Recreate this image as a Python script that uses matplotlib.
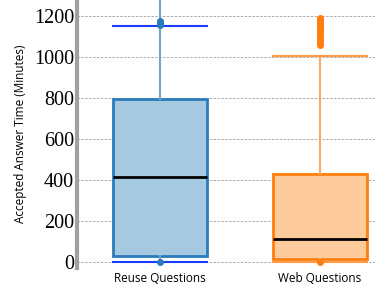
import matplotlib
matplotlib.use("Agg")
import matplotlib.pyplot as plt
import numpy as np

categories = ["Reuse Questions", "Web Questions"]
medians = [415, 112]
q1s = [28, 14]
q3s = [793, 428]
whis_lo = [2, 2]
whis_hi = [1150, 1003]
fliers = [
    [0, 1158, 1162, 1166, 1170, 1175],
    [0, 1060, 1070, 1080, 1090, 1100, 1110, 1120, 1130, 1140, 1150, 1160, 1170, 1180, 1190],
]
reuse_trail = [1150, 1400]  # dense outliers above the cap for Reuse
yticks = [0, 200, 400, 600, 800, 1000, 1200]

edge_colors = ["#2b7bba", "#ff7f0e"]
fill_colors = ["#a6c9e2", "#fdcb9c"]
whisker_colors = ["#6fa3d0", "#fda860"]
cap_colors = ["#1a3dff", "#ff9a45"]

fig = plt.figure(figsize=(3.75, 2.88), dpi=100)
ax = fig.add_axes([0.205, 0.069, 0.795, 0.931])

positions = np.arange(len(categories))
ax.vlines(positions[0], reuse_trail[0], reuse_trail[1], color=whisker_colors[0], lw=1.5, zorder=2)

for i in range(len(categories)):
    stats = [dict(med=medians[i], q1=q1s[i], q3=q3s[i], whislo=whis_lo[i],
                  whishi=whis_hi[i], fliers=fliers[i], label=categories[i])]
    ax.bxp(stats, positions=[positions[i]], widths=0.59, patch_artist=True,
           boxprops=dict(facecolor=fill_colors[i], edgecolor=edge_colors[i], linewidth=2),
           medianprops=dict(color="black", linewidth=2),
           whiskerprops=dict(color=whisker_colors[i], linewidth=1.5),
           capprops=dict(color=cap_colors[i], linewidth=1.5),
           capwidths=0.59,
           flierprops=dict(marker="o", markersize=4, markerfacecolor=edge_colors[i],
                           markeredgecolor=edge_colors[i]),
           zorder=3)

ax.set_xlim(-0.519, 1.344)
ax.set_ylim(-29, 1278)
ax.set_xticks(positions)
ax.set_xticklabels(categories, fontfamily="Open Sans", fontsize=8.5)
ax.set_yticks(yticks)
ax.set_yticklabels([str(v) for v in yticks], fontfamily="Liberation Serif", fontsize=14.5)
ax.tick_params(axis="both", length=0, pad=2)
ax.tick_params(axis="x", pad=3)
ax.yaxis.grid(True, linestyle=(0, (2.5, 1.5)), color="#aaaaaa", linewidth=0.7)
ax.set_axisbelow(True)
for s in ["top", "right", "bottom"]:
    ax.spines[s].set_visible(False)
ax.spines["left"].set_color("#a0a0a0")
ax.spines["left"].set_linewidth(3)
ax.set_ylabel("Accepted Answer Time (Minutes)", fontfamily="Open Sans", fontsize=8.5, labelpad=5)

fig.savefig("out.png", dpi=100)
